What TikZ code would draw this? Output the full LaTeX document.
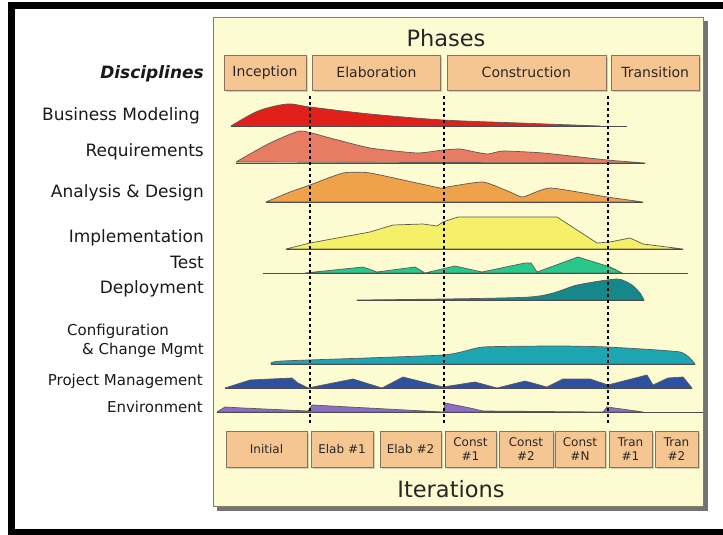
\documentclass[tikz,border=0pt]{standalone}
\usepackage{fontspec}
\setmainfont{DejaVu Sans}
\usetikzlibrary{positioning,shadows}

\definecolor{panelfill}{RGB}{253,251,210}
\definecolor{panelline}{RGB}{130,125,100}
\definecolor{boxfill}{RGB}{246,198,146}
\definecolor{boxline}{RGB}{135,115,95}
\definecolor{textgray}{RGB}{40,40,40}
\definecolor{bizred}{RGB}{226,32,26}
\definecolor{reqsalmon}{RGB}{232,124,98}
\definecolor{anaorange}{RGB}{240,162,74}
\definecolor{impyellow}{RGB}{246,240,104}
\definecolor{testgreen}{RGB}{40,200,140}
\definecolor{depteal}{RGB}{22,135,138}
\definecolor{cfgteal}{RGB}{30,165,178}
\definecolor{pmblue}{RGB}{45,80,160}
\definecolor{envpurple}{RGB}{140,110,200}

\tikzset{
  phasebox/.style={draw=boxline, fill=boxfill, minimum height=35pt, inner sep=0pt,
    text=textgray, font=\fontsize{14}{16}\selectfont,
    drop shadow={shadow xshift=2pt, shadow yshift=-2pt, opacity=0.35}},
  iterbox/.style={phasebox, minimum height=36pt, align=center,
    font=\fontsize{12}{14.5}\selectfont},
  title/.style={text=black!85, font=\fontsize{22.5}{26}\selectfont},
  disc/.style={anchor=base east, inner sep=0pt, text=black!90, font=\fontsize{17}{20}\selectfont},
  smalldisc/.style={disc, font=\fontsize{15}{19}\selectfont},
  hump/.style={draw=black!65, line width=0.7pt, line join=round},
  baseline/.style={draw=black!70, line width=1pt},
  phaseline/.style={line width=2pt, dash pattern=on 3pt off 3pt},
}

\begin{document}
\begin{tikzpicture}[x=1pt,y=-1pt]
  \useasboundingbox (0,0) rectangle (723,535);

  % black frame, open on the right
  \fill[black] (8,2) rectangle (723,9);
  \fill[black] (8,2) rectangle (15,535);
  \fill[black] (8,529) rectangle (723,535);

  % the chart panel
  \fill[black!55] (217,21) rectangle (708,511);
  \filldraw[draw=panelline, fill=panelfill] (213,17) rectangle (703,506);

  \node[title] (phases) at (446,38) {Phases};
  \node[title] (iterations) at (451,489) {Iterations};

  % phases
  \node[phasebox, minimum width=82pt] (inception) at (265,72.5) {Inception};
  \node[phasebox, minimum width=128pt, right=6pt of inception] (elaboration) {Elaboration};
  \node[phasebox, minimum width=159pt, right=6pt of elaboration] (construction) {Construction};
  \node[phasebox, minimum width=88pt, right=5pt of construction] (transition) {Transition};

  % disciplines
  \node[disc, font=\fontsize{17}{20}\bfseries\itshape] (disciplines) at (204,78) {Disciplines};
  \node[disc] (bizmod) at (200,121) {Business Modeling};
  \node[disc] (req) at (204,156) {Requirements};
  \node[disc] (ana) at (204,197) {Analysis \& Design};
  \node[disc] (impl) at (204,242) {Implementation};
  \node[disc] (test) at (204,268) {Test};
  \node[disc] (deploy) at (204,293) {Deployment};
  \node[smalldisc, anchor=base west, align=left] (config) at (67,354)
    {Configuration\\\hspace*{15pt}\& Change Mgmt};
  \node[smalldisc] (pm) at (203,385) {Project Management};
  \node[smalldisc] (env) at (203,412) {Environment};

  % humps
  \filldraw[hump, fill=bizred] plot[smooth, tension=0.5] coordinates
    {(231,126) (258,111) (287,104) (310,107) (370,114) (443,120) (520,123) (600,126)} -- cycle;
  \draw[baseline] (231,126) -- (627,126);

  \filldraw[hump, fill=reqsalmon] plot[smooth, tension=0.3] coordinates
    {(236,162) (268,144) (300,131) (330,138) (370,148) (417,153) (443,150) (460,149)
     (475,152) (488,154) (503,151) (543,153) (607,160) (645,163)} -- cycle;
  \draw[baseline] (236,163) -- (645,163);

  \filldraw[hump, fill=anaorange] plot[smooth, tension=0.3] coordinates
    {(266,202) (290,192) (310,185) (343,173) (370,173) (440,188) (447,187) (483,182)
     (510,192) (523,197) (550,188) (607,197) (643,202)} -- cycle;
  \draw[baseline] (266,202) -- (643,202);

  \filldraw[hump, fill=impyellow] (286,249) -- (310,243) -- (370,232) -- (393,225)
    -- (423,224) -- (437,226) -- (443,222) -- (458,217) -- (557,217) -- (597,243)
    -- (610,242) -- (630,238) -- (643,244) -- (683,249) -- cycle;
  \draw[baseline] (286,249) -- (683,249);

  \filldraw[hump, fill=testgreen] (305,273) -- (363,267) -- (377,272) -- (415,267)
    -- (425,273) -- (455,266) -- (482,272) -- (525,263) -- (531,263) -- (537,272)
    -- (578,257) -- (610,267) -- (622,273) -- cycle;
  \draw[baseline] (263,273) -- (688,273);

  \filldraw[hump, fill=depteal] plot[smooth, tension=0.4] coordinates
    {(357,300) (530,297) (577,285) (617,279) (632,285) (640,293) (644,300)} -- cycle;
  \draw[baseline] (357,300) -- (644,300);

  \filldraw[hump, fill=cfgteal] plot[smooth, tension=0.3] coordinates
    {(271,364) (282,361) (443,355) (483,347) (560,346) (607,347) (680,352) (695,364)} -- cycle;
  \draw[baseline] (271,364) -- (695,364);

  \filldraw[hump, fill=pmblue] (225,388) -- (250,380) -- (292,378) -- (298,383)
    -- (308,388) -- (353,379) -- (382,388) -- (403,377) -- (443,387) -- (475,382)
    -- (497,388) -- (525,381) -- (547,387) -- (563,379) -- (590,379) -- (608,385)
    -- (647,375) -- (653,385) -- (668,378) -- (683,377) -- (692,388) -- cycle;
  \draw[baseline] (225,388) -- (692,388);

  \filldraw[hump, fill=envpurple] (217,412) -- (225,407) -- (243,408) -- (308,411)
    -- (312,405) -- (443,412) -- (445,403) -- (470,408) -- (483,411) -- (603,412)
    -- (607,407) -- (643,412) -- cycle;
  \draw[baseline] (217,412) -- (703,412);

  % phase borders
  \foreach \px/\pn in {310/a,444/b,608/c} {
    \coordinate (top\pn) at (\px,96);
    \coordinate (bot\pn) at (\px,425);
    \draw[phaseline] (top\pn) -- (bot\pn);
  }

  % iterations
  \node[iterbox, minimum width=81pt] (initial) at (266.5,449) {Initial};
  \node[iterbox, minimum width=62pt] (elab1) at (342,449) {Elab \#1};
  \node[iterbox, minimum width=61pt] (elab2) at (410.5,449) {Elab \#2};
  \node[iterbox, minimum width=51pt] (const1) at (470.5,449) {Const\\\#1};
  \node[iterbox, minimum width=54pt] (const2) at (526,449) {Const\\\#2};
  \node[iterbox, minimum width=50pt] (constn) at (580,449) {Const\\\#N};
  \node[iterbox, minimum width=43pt] (tran1) at (630.5,449) {Tran\\\#1};
  \node[iterbox, minimum width=43pt] (tran2) at (676.5,449) {Tran\\\#2};

\end{tikzpicture}
\end{document}
